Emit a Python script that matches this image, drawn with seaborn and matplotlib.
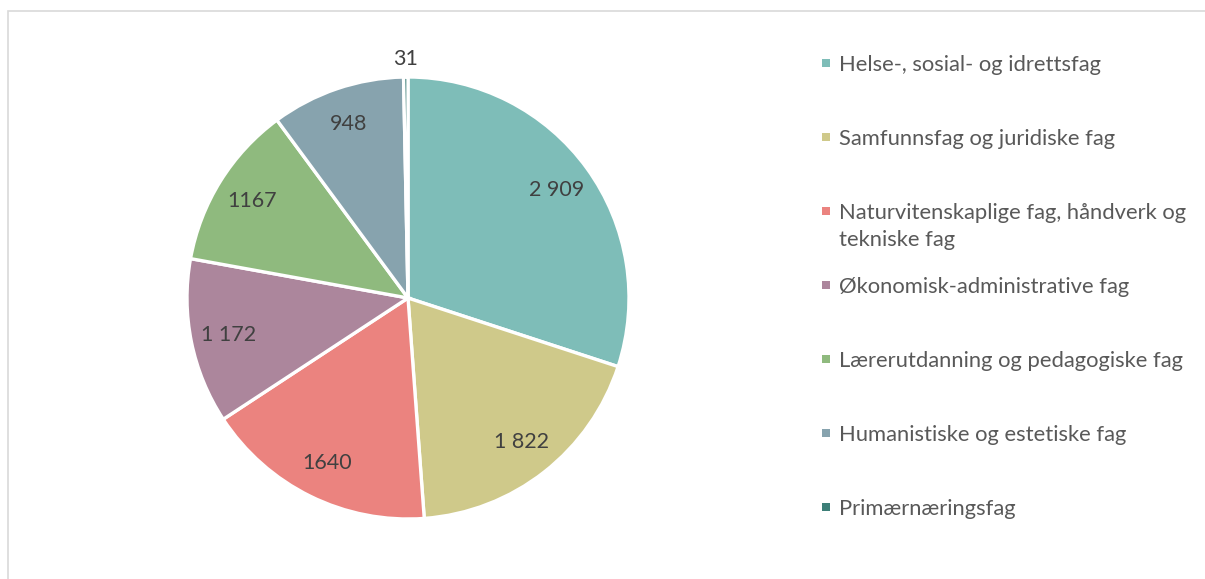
import matplotlib.pyplot as plt
import matplotlib.patches as mpatches
import seaborn as sns
import numpy as np

# data
categories = ["Helse-, sosial- og idrettsfag",
              "Samfunnsfag og juridiske fag",
              "Naturvitenskaplige fag, håndverk og\ntekniske fag",
              "Økonomisk-administrative fag",
              "Lærerutdanning og pedagogiske fag",
              "Humanistiske og estetiske fag",
              "Primærnæringsfag"]
values = [2909, 1822, 1640, 1172, 1167, 948, 31]
value_labels = ["2 909", "1 822", "1640", "1 172", "1167", "948", "31"]
colors = ["#7ebdb8", "#cfc98a", "#eb837f", "#ac869c", "#8fba7e", "#87a3ae", "#3d7f78"]

sns.set_theme(style="white")
plt.rcParams['font.family'] = ['Lato', 'DejaVu Sans']
palette = sns.color_palette(colors)

W, H = 1205, 579
fig = plt.figure(figsize=(W / 100, H / 100), dpi=100)

# pie centre and radius in pixels
cx, cy, r = 408, 298, 221
ax = fig.add_axes([(cx - r) / W, (H - cy - r) / H, 2 * r / W, 2 * r / H])
wedges, _ = ax.pie(values, colors=palette, startangle=90, counterclock=False,
                   radius=1, wedgeprops=dict(edgecolor="white", linewidth=2.4))
ax.set_xlim(-1, 1)
ax.set_ylim(-1, 1)
ax.set_aspect("equal")
ax.axis("off")

for w, lab in zip(wedges, value_labels):
    ang = np.deg2rad((w.theta1 + w.theta2) / 2)
    d = 1.08 if lab == "31" else 0.83
    ax.text(d * np.cos(ang), d * np.sin(ang), lab, ha="center", va="center",
            fontsize=15.5, color="#404040", clip_on=False)

# legend laid out like the original (fixed slots)
slot0, step = 63, 74
for i, (cat, col) in enumerate(zip(categories, palette)):
    y = slot0 + i * step
    fig.patches.append(mpatches.Rectangle((822 / W, 1 - (y + 4) / H), 8 / W, 8 / H,
                                          transform=fig.transFigure, facecolor=col,
                                          edgecolor="none"))
    fig.text(839 / W, 1 - (y - 8) / H, cat, ha="left", va="top", fontsize=15.8,
             color="#595959", linespacing=1.42)

# chart frame (only top and left edges are visible)
fig.patches.append(mpatches.Rectangle((8 / W, -0.1), 1.2, (H - 11) / H + 0.1,
                                      transform=fig.transFigure, fill=False,
                                      edgecolor="#d9d9d9", linewidth=1.2))

fig.savefig("out.png", dpi=100, facecolor="white")
